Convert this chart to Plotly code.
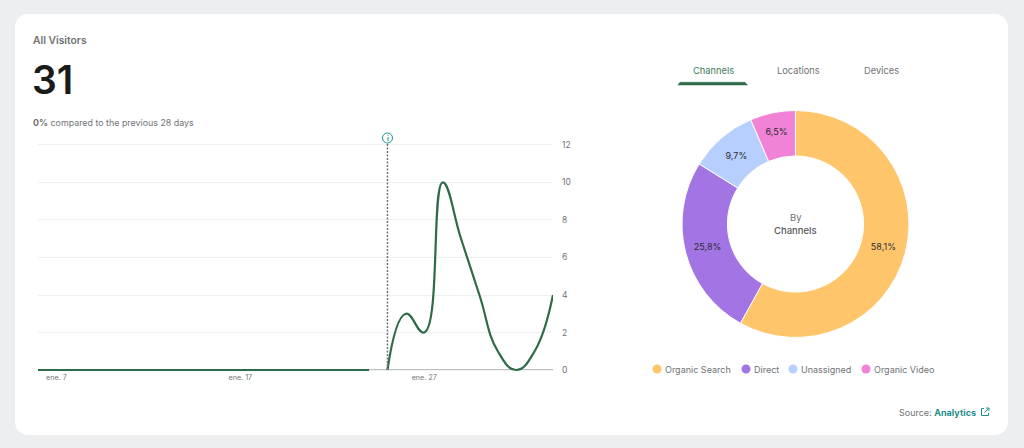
import plotly.graph_objects as go

WIDTH = 1024
HEIGHT = 448

# Daily visitors, ene. 6 to feb. 3 (the line has a gap before ene. 25)
dates_before = ['2024-01-%02d' % d for d in range(6, 25)]
visitors_before = [0] * 19
dates_after = ['2024-01-25', '2024-01-26', '2024-01-27', '2024-01-28', '2024-01-29',
               '2024-01-30', '2024-01-31', '2024-02-01', '2024-02-02', '2024-02-03']
visitors_after = [0, 3, 2, 10, 7, 4, 1, 0, 1, 4]
marker_date = '2024-01-25'

x_tick_vals = ['2024-01-07', '2024-01-17', '2024-01-27']
x_tick_text = ['ene. 7', 'ene. 17', 'ene. 27']
y_tick_vals = [0, 2, 4, 6, 8, 10, 12]

channels = ['Organic Search', 'Direct', 'Unassigned', 'Organic Video']
channel_counts = [18, 8, 3, 2]
channel_colors = ['#FFC56B', '#A374E3', '#B6CFFF', '#F083D6']

tabs = ['Channels', 'Locations', 'Devices']

GREEN = '#2F6B48'
TEAL = '#1F8F8A'
GRAY = '#6F7376'
FONT = 'Inter'


def px(x):
    return x / WIDTH


def py(y):
    return 1 - y / HEIGHT


def add_text(fig, x, y, text, size, color, anchor='left', weight=None):
    # x and y are page pixels
    font = {'family': FONT, 'size': size, 'color': color}
    if weight:
        font['weight'] = weight
    fig.add_annotation(x=px(x), y=py(y), xref='paper', yref='paper', text=text, showarrow=False,
                       xanchor=anchor, yanchor='middle', font=font, borderpad=0, borderwidth=0)


def add_page_shape(fig, **kwargs):
    fig.add_shape(xref='paper', yref='paper', **kwargs)


def rounded_rect_path(x0, y0, x1, y1, r):
    c = r * 0.45
    return (f'M {px(x0 + r)} {py(y0)} L {px(x1 - r)} {py(y0)} '
            f'C {px(x1 - c)} {py(y0)} {px(x1)} {py(y0 + c)} {px(x1)} {py(y0 + r)} '
            f'L {px(x1)} {py(y1 - r)} '
            f'C {px(x1)} {py(y1 - c)} {px(x1 - c)} {py(y1)} {px(x1 - r)} {py(y1)} '
            f'L {px(x0 + r)} {py(y1)} '
            f'C {px(x0 + c)} {py(y1)} {px(x0)} {py(y1 - c)} {px(x0)} {py(y1 - r)} '
            f'L {px(x0)} {py(y0 + r)} '
            f'C {px(x0)} {py(y0 + c)} {px(x0 + c)} {py(y0)} {px(x0 + r)} {py(y0)} Z')


fig = go.Figure()

# Line chart
for dates, visitors in ((dates_before, visitors_before), (dates_after, visitors_after)):
    fig.add_trace(go.Scatter(
        x=dates,
        y=visitors,
        mode='lines',
        line={'color': GREEN, 'width': 2.2, 'shape': 'spline', 'smoothing': 1.3},
        showlegend=False))

# Donut
fig.add_trace(go.Pie(
    labels=channels,
    values=channel_counts,
    hole=0.6,
    sort=False,
    direction='clockwise',
    rotation=0,
    marker={'colors': channel_colors, 'line': {'color': '#FFFFFF', 'width': 1}},
    texttemplate='%{percent:.1%}',
    textposition='inside',
    insidetextorientation='horizontal',
    textfont={'family': FONT, 'size': 9, 'color': '#2B2B33'},
    showlegend=False,
    domain={'x': [px(682), px(909)], 'y': [py(337.5), py(110.5)]}))

fig.update_xaxes(
    automargin=False,
    domain=[px(38), px(553)],
    range=[dates_before[0], dates_after[-1]],
    tickmode='array',
    tickvals=x_tick_vals,
    ticktext=x_tick_text,
    tickfont={'family': FONT, 'size': 7.2, 'color': GRAY},
    ticks='',
    showgrid=False,
    zeroline=False,
    showline=False,
    ticklabelstandoff=0)
# range runs a little past both ends: plotly drops gridlines at the very edge and clips the line at 0
fig.update_yaxes(
    automargin=False,
    domain=[py(371.9), py(143.1)],
    range=[-0.1, 12.1],
    side='right',
    tickmode='array',
    tickvals=y_tick_vals,
    tickfont={'family': FONT, 'size': 8.5, 'color': GRAY},
    ticks='',
    showgrid=True,
    gridcolor='#EEF0F4',
    gridwidth=1,
    zeroline=False,
    showline=False,
    ticklabelstandoff=8)

# Card behind everything
add_page_shape(fig, type='path', path=rounded_rect_path(15, 14, 1008, 435, 13),
               fillcolor='#FFFFFF', line={'width': 0}, layer='below')

# Baseline as a shape, the axis line would sit on top of the green line
fig.add_shape(type='line', xref='x domain', yref='y', x0=0, x1=1, y0=0, y1=0,
              line={'color': '#7A7D80', 'width': 1}, layer='below')

# Marker line with the info icon
fig.add_shape(type='line', xref='x', yref='paper', x0=marker_date, x1=marker_date,
              y0=py(370), y1=py(143), line={'color': '#6F7376', 'width': 1.5, 'dash': '2px,1.5px'})
add_page_shape(fig, type='circle', x0=px(382.5), x1=px(392.5), y0=py(143), y1=py(133),
               line={'color': TEAL, 'width': 1}, fillcolor='#FFFFFF')
add_text(fig, 387.5, 138, 'i', 7, TEAL, anchor='center', weight=600)

# Header
add_text(fig, 33, 40, 'All Visitors', 10.3, GRAY, weight=600)
add_text(fig, 32, 79, '31', 39, '#1A1C1B', weight=600)
add_text(fig, 33, 122.5, '<b>0%</b> compared to the previous 28 days', 8.9, GRAY)

# Tabs
tab_centers = [713, 798, 881]
for tab, center in zip(tabs, tab_centers):
    add_text(fig, center, 70, tab, 9.3, '#3F7A58' if tab == 'Channels' else GRAY, anchor='center')
add_page_shape(fig, type='path', path=(f'M {px(678)} {py(85)} L {px(680)} {py(82.3)} L {px(745)} {py(82.3)} '
                                       f'L {px(747.5)} {py(85)} Z'),
               fillcolor=GREEN, line={'color': GREEN, 'width': 0.5})

# Donut centre
add_text(fig, 795.5, 217.5, 'By', 9.5, GRAY, anchor='center')
add_text(fig, 795.5, 230.5, 'Channels', 9.5, '#55595C', anchor='center', weight=500)

# Legend row
legend_dots = [657, 746, 793, 866]
for name, color, dot in zip(channels, channel_colors, legend_dots):
    add_page_shape(fig, type='circle', x0=px(dot - 4.5), x1=px(dot + 4.5), y0=py(373.5), y1=py(364.5),
                   fillcolor=color, line={'width': 0})
    add_text(fig, dot + 8, 369, name, 9, GRAY)

# Source
add_text(fig, 975.5, 412, 'Source: <b><span style="color:%s">Analytics</span></b>' % TEAL, 9, GRAY, anchor='right')
add_page_shape(fig, type='path',
               path=(f'M {px(984)} {py(408.5)} L {px(981.5)} {py(408.5)} L {px(981.5)} {py(415.5)} '
                     f'L {px(988.5)} {py(415.5)} L {px(988.5)} {py(413)} '
                     f'M {px(984.5)} {py(412.5)} L {px(989)} {py(408)} '
                     f'M {px(986)} {py(408)} L {px(989)} {py(408)} L {px(989)} {py(411)}'),
               line={'color': TEAL, 'width': 1})

fig.update_layout(
    width=WIDTH,
    height=HEIGHT,
    margin={'l': 0, 'r': 0, 't': 0, 'b': 0},
    paper_bgcolor='#EDEEF0',
    plot_bgcolor='rgba(0,0,0,0)',
    separators=',.',
    showlegend=False)

fig.write_html('out.html', config={'displayModeBar': False},
               post_script="document.body.style.margin='0';")
